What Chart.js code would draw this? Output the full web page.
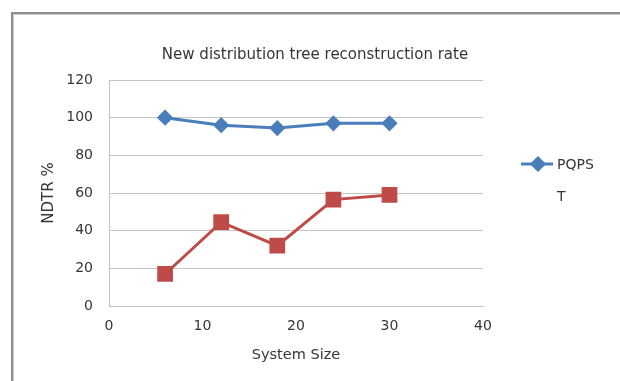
<!DOCTYPE html>
<html>
<head>
<meta charset="utf-8">
<script src="https://cdn.jsdelivr.net/npm/chart.js@4/dist/chart.umd.min.js"></script>
<style>
  html, body { margin: 0; padding: 0; background: #ffffff; }
  #wrap { position: relative; width: 620px; height: 381px; }
</style>
</head>
<body>
<div id="wrap"><canvas id="c" width="620" height="381"></canvas></div>
<script>
// System sizes on the x axis
const systemSizes = [6, 12, 18, 24, 30];
// NDTR % for each scheme
const pqpsValues = [100, 96, 94.5, 97, 97];
const tValues = [17, 44.5, 32, 56.5, 59];
// Axis ticks
const yTicks = [0, 20, 40, 60, 80, 100, 120];
const xTicks = [0, 10, 20, 30, 40];
const seriesLabels = ['PQPS', 'T'];

const FONT = '"DejaVu Sans", "Noto Sans", sans-serif';
const TEXT = '#363636';
const GRID = '#c4c4c4';

const toPoints = (xs, ys) => xs.map((x, i) => ({ x: x, y: ys[i] }));

// Frame around the chart (left and top edge)
const framePlugin = {
  id: 'frame',
  beforeDraw(chart) {
    const ctx = chart.ctx;
    ctx.save();
    ctx.fillStyle = '#ffffff';
    ctx.fillRect(0, 0, chart.width, chart.height);
    ctx.fillStyle = '#8e8e8e';
    ctx.fillRect(11, 12, 2, chart.height - 12);
    ctx.fillRect(11, 12, chart.width - 11, 2);
    ctx.fillStyle = '#cfcfcf';
    ctx.fillRect(13, 14, 1, chart.height - 14);
    ctx.fillRect(13, 14, chart.width - 13, 1);
    ctx.restore();
  }
};

// Legend to the right of the plot
const sideLegend = {
  id: 'sideLegend',
  afterDraw(chart) {
    const ctx = chart.ctx;
    const rows = [
      { ds: chart.data.datasets[0], y: 164, marker: true },
      { ds: chart.data.datasets[1], y: 196, marker: false }
    ];
    ctx.save();
    rows.forEach(r => {
      if (r.marker) {
        ctx.strokeStyle = r.ds.borderColor;
        ctx.lineWidth = r.ds.borderWidth;
        ctx.beginPath();
        ctx.moveTo(521, r.y);
        ctx.lineTo(553, r.y);
        ctx.stroke();
        ctx.fillStyle = r.ds.pointBackgroundColor;
        ctx.strokeStyle = r.ds.pointBorderColor;
        Chart.helpers.drawPoint(ctx, {
          pointStyle: r.ds.pointStyle, radius: r.ds.pointRadius, borderWidth: 1, rotation: 0
        }, 538, r.y);
      }
      ctx.fillStyle = TEXT;
      ctx.font = '14px ' + FONT;
      ctx.textBaseline = 'middle';
      ctx.textAlign = 'left';
      ctx.fillText(r.ds.label, 557, r.y + 1);
    });
    ctx.restore();
  }
};

new Chart(document.getElementById('c'), {
  type: 'line',
  data: {
    datasets: [
      {
        label: seriesLabels[0],
        data: toPoints(systemSizes, pqpsValues),
        borderColor: '#4a7ebb',
        backgroundColor: '#4a7ebb',
        borderWidth: 3,
        pointStyle: 'rectRot',
        pointRadius: 6,
        pointBackgroundColor: '#4a7ebb',
        pointBorderColor: '#4a7ebb',
        tension: 0
      },
      {
        label: seriesLabels[1],
        data: toPoints(systemSizes, tValues),
        borderColor: '#be4b48',
        backgroundColor: '#be4b48',
        borderWidth: 3,
        pointStyle: 'rect',
        pointRadius: 9,
        pointBackgroundColor: '#be4b48',
        pointBorderColor: '#be4b48',
        tension: 0
      }
    ]
  },
  options: {
    responsive: false,
    animation: false,
    layout: { padding: { left: 10, right: 0, top: 0, bottom: 0 } },
    plugins: {
      legend: { display: false },
      tooltip: { enabled: false },
      title: {
        display: true,
        text: 'New distribution tree reconstruction rate',
        color: TEXT,
        font: { family: FONT, size: 15, weight: 'normal' },
        padding: { top: 46, bottom: 16 }
      }
    },
    scales: {
      x: {
        type: 'linear',
        min: 0,
        max: 40,
        afterBuildTicks(scale) { scale.ticks = xTicks.map(v => ({ value: v })); },
        afterFit(scale) { scale.height = 75; },
        grid: { display: false },
        border: { display: true, color: GRID, width: 1 },
        ticks: { color: TEXT, font: { family: FONT, size: 14 }, padding: 4, maxRotation: 0 },
        title: {
          display: true, text: 'System Size', color: TEXT,
          font: { family: FONT, size: 14.5 }, padding: { top: 0, bottom: 17 }
        }
      },
      y: {
        min: 0,
        max: 120,
        afterBuildTicks(scale) { scale.ticks = yTicks.map(v => ({ value: v })); },
        afterFit(scale) { scale.width = 99; },
        grid: { color: GRID, lineWidth: 1, drawTicks: false },
        border: { display: true, color: GRID, width: 1 },
        ticks: { color: TEXT, font: { family: FONT, size: 14 }, padding: 16 },
        title: {
          display: true, text: 'NDTR %', color: TEXT,
          font: { family: FONT, size: 15 }, padding: { top: 30, bottom: 0 }
        }
      },
      // Empty band on the right that holds the legend
      side: {
        type: 'linear',
        position: 'right',
        display: true,
        afterFit(scale) { scale.width = 137; },
        grid: { display: false },
        border: { display: false },
        ticks: { display: false },
        title: { display: false }
      }
    }
  },
  plugins: [framePlugin, sideLegend]
});
</script>
</body>
</html>
